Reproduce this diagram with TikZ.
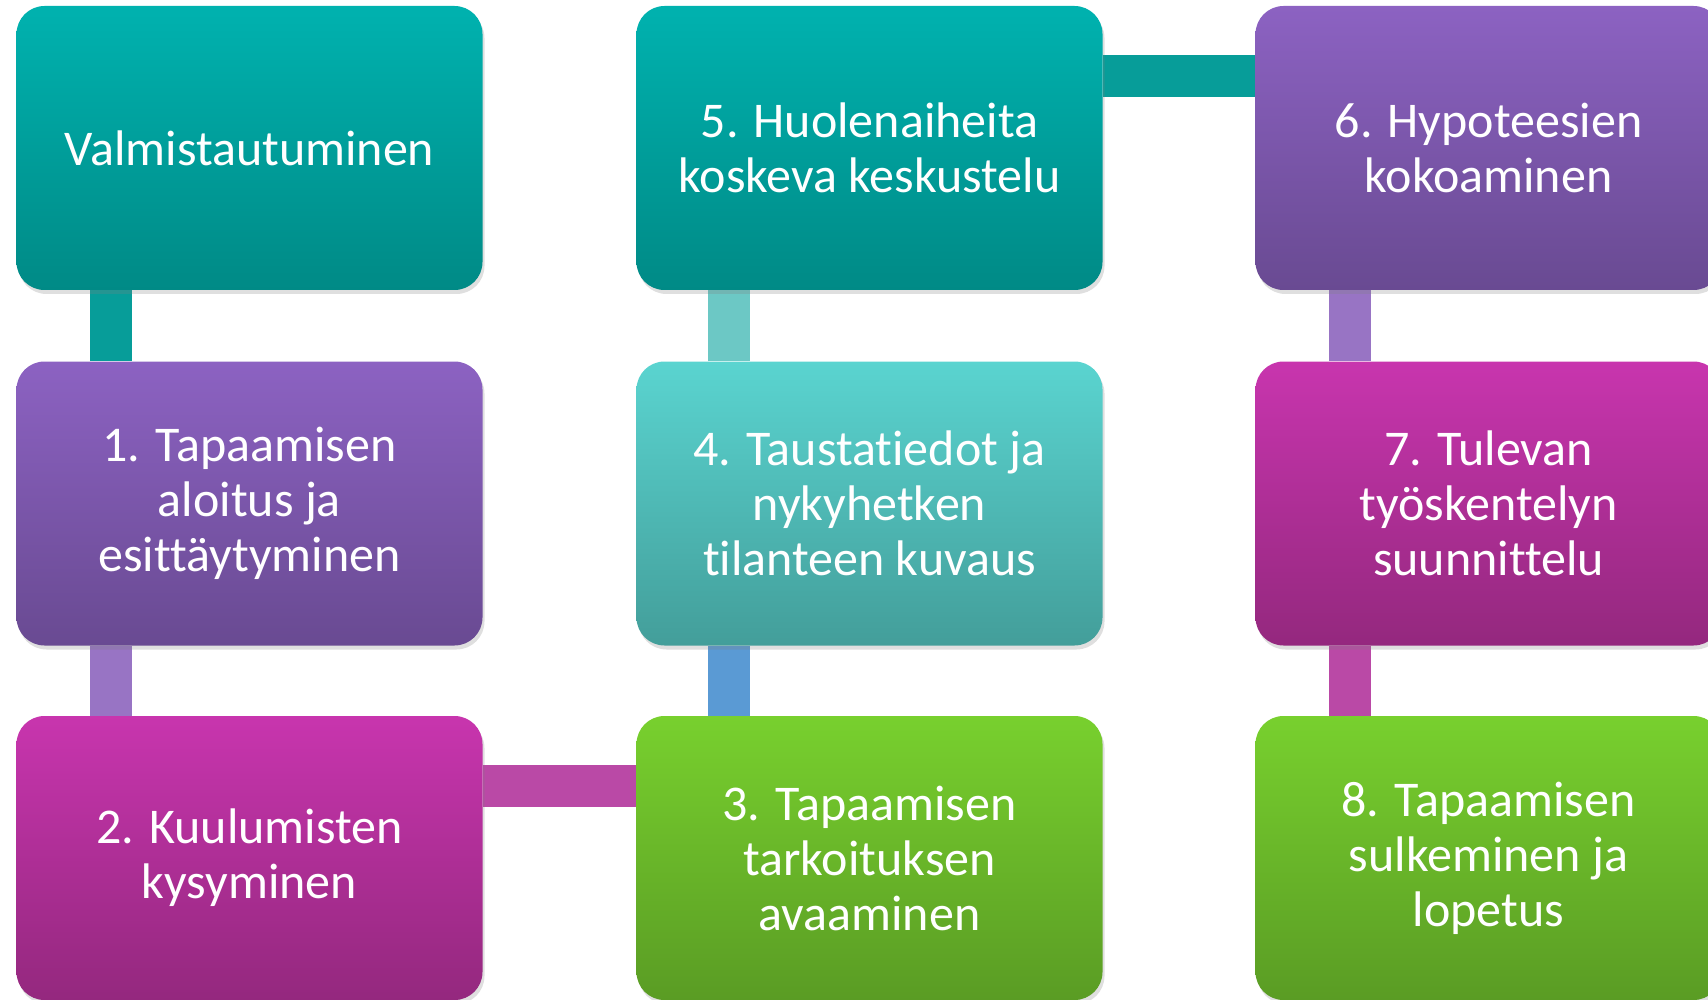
\documentclass[tikz,border=0pt]{standalone}
\usepackage{fontspec}
\setmainfont{Carlito}[Ligatures={NoCommon}]
\usetikzlibrary{shadows,backgrounds}
\definecolor{tealT}{HTML}{00B2AF}
\definecolor{tealB}{HTML}{008A86}
\definecolor{purpT}{HTML}{8C62C2}
\definecolor{purpB}{HTML}{694A92}
\definecolor{magT}{HTML}{C835AE}
\definecolor{magB}{HTML}{94287E}
\definecolor{grnT}{HTML}{78D02E}
\definecolor{grnB}{HTML}{5A9C24}
\definecolor{ltT}{HTML}{5AD4D0}
\definecolor{ltB}{HTML}{439E9A}
\definecolor{cTeal}{HTML}{079D99}
\definecolor{cLav}{HTML}{9874C4}
\definecolor{cMag}{HTML}{BA49A6}
\definecolor{cBlue}{HTML}{5A9AD4}
\definecolor{cLt}{HTML}{6CC8C5}
\tikzset{
  box/.style={rounded corners=28pt, minimum width=466pt, minimum height=284pt,
    inner sep=0pt, align=center, text=white,
    font=\fontsize{50}{55}\selectfont,
    drop shadow={opacity=0.25, shadow xshift=2pt, shadow yshift=-4pt}},
  link/.style={line width=42pt, line cap=butt},
}
\begin{document}
\begin{tikzpicture}[x=1pt,y=-1pt]
\useasboundingbox (0,0) rectangle (1708,1000);
\clip (0,0) rectangle (1708,1000);
\node[box, top color=tealT, bottom color=tealB] (v) at (249.5,148) {Valmistautuminen};
\node[box, top color=purpT, bottom color=purpB] (n1) at (249.5,503.5) {1. Tapaamisen\\aloitus ja\\esittäytyminen};
\node[box, top color=magT, bottom color=magB] (n2) at (249.5,858) {2. Kuulumisten\\kysyminen};
\node[box, top color=grnT, bottom color=grnB] (n3) at (869.5,858) {3. Tapaamisen\\tarkoituksen\\avaaminen};
\node[box, top color=ltT, bottom color=ltB] (n4) at (869.5,503.5) {4. Taustatiedot ja\\nykyhetken\\tilanteen kuvaus};
\node[box, top color=tealT, bottom color=tealB] (n5) at (869.5,148) {5. Huolenaiheita\\koskeva keskustelu};
\node[box, top color=purpT, bottom color=purpB] (n6) at (1488.5,148) {6. Hypoteesien\\kokoaminen};
\node[box, top color=magT, bottom color=magB] (n7) at (1488.5,503.5) {7. Tulevan\\työskentelyn\\suunnittelu};
\node[box, top color=grnT, bottom color=grnB] (n8) at (1488.5,858) {8. Tapaamisen\\sulkeminen ja\\lopetus};
\begin{scope}[on background layer]
\draw[link, cTeal] ([xshift=95pt]v.south west) -- ([xshift=95pt]n1.north west);
\draw[link, cLav] ([xshift=95pt]n1.south west) -- ([xshift=95pt]n2.north west);
\draw[link, cMag] ([yshift=-70pt]n2.north east) -- ([yshift=-70pt]n3.north west);
\draw[link, cBlue] ([xshift=93pt]n3.north west) -- ([xshift=93pt]n4.south west);
\draw[link, cLt] ([xshift=93pt]n4.north west) -- ([xshift=93pt]n5.south west);
\draw[link, cTeal] ([yshift=-70pt]n5.north east) -- ([yshift=-70pt]n6.north west);
\draw[link, cLav] ([xshift=95pt]n6.south west) -- ([xshift=95pt]n7.north west);
\draw[link, cMag] ([xshift=95pt]n7.south west) -- ([xshift=95pt]n8.north west);
\end{scope}
\end{tikzpicture}
\end{document}
